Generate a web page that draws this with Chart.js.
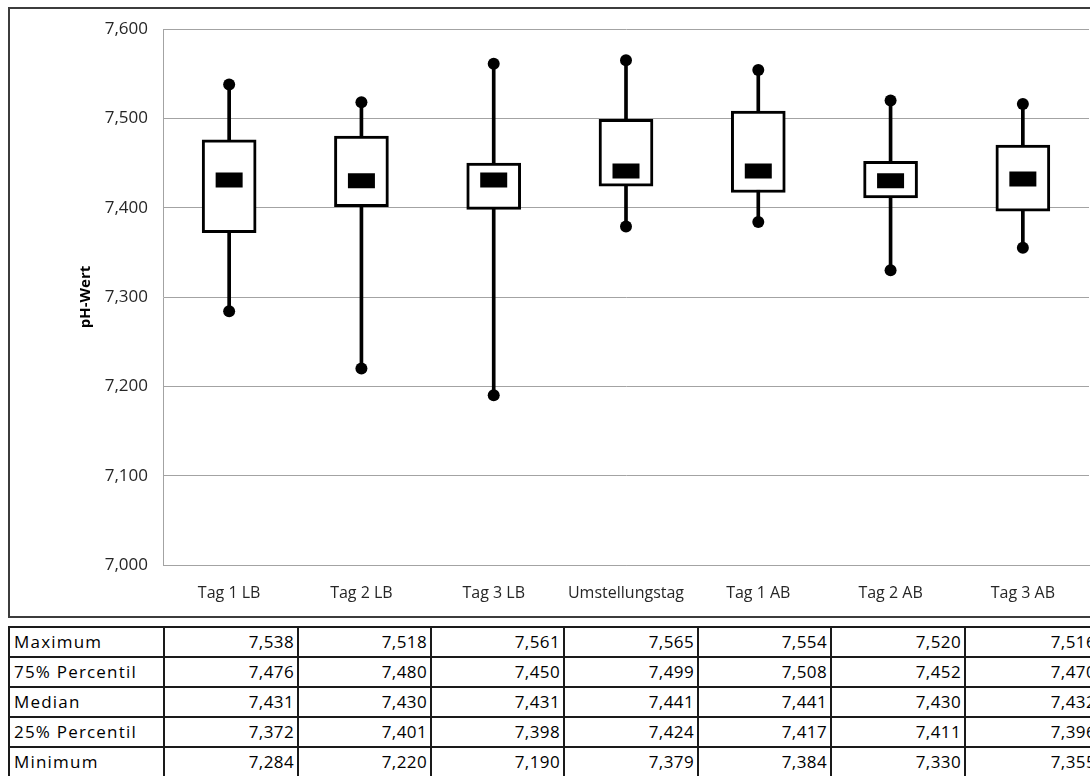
<!DOCTYPE html>
<html lang="de">
<head>
<meta charset="utf-8">
<title>pH-Wert Verlauf</title>
<script src="https://cdn.jsdelivr.net/npm/chart.js@4/dist/chart.umd.min.js"></script>
<style>
  html, body { margin: 0; padding: 0; background: #fff; overflow: hidden; width: 1090px; height: 776px; }
  #frame {
    position: absolute; left: 8px; top: 7px;
    width: 1100px; height: 607px;
    border: 2px solid #3c3c3c;
  }
  #frame canvas { display: block; }
  #stats {
    position: absolute; left: 8px; top: 626px;
    border-collapse: collapse;
    font-family: "Open Sans", sans-serif; font-size: 17px; color: #000;
    table-layout: fixed; width: 1091px;
  }
  #stats td {
    border: 2px solid #1a1a1a;
    height: 28px; padding: 0 3px; line-height: 28px;
    white-space: nowrap; overflow: hidden;
    letter-spacing: 0.4px;
  }
  #stats td.lbl { text-align: left; padding-left: 4px; letter-spacing: 1.2px; }
  #stats td.num { text-align: right; }
</style>
</head>
<body>
<div id="frame"><canvas id="chart" width="1100" height="607"></canvas></div>
<table id="stats"></table>
<script>
// Kategorien (Messtage)
const categories = ['Tag 1 LB', 'Tag 2 LB', 'Tag 3 LB', 'Umstellungstag', 'Tag 1 AB', 'Tag 2 AB', 'Tag 3 AB'];

// Kennwerte je Messtag
const maximum = [7.538, 7.518, 7.561, 7.565, 7.554, 7.520, 7.516];
const q3      = [7.476, 7.480, 7.450, 7.499, 7.508, 7.452, 7.470];
const median  = [7.431, 7.430, 7.431, 7.441, 7.441, 7.430, 7.432];
const q1      = [7.372, 7.401, 7.398, 7.424, 7.417, 7.411, 7.396];
const minimum = [7.284, 7.220, 7.190, 7.379, 7.384, 7.330, 7.355];

// Zeilenbeschriftungen der Tabelle
const rowLabels = ['Maximum', '75% Percentil', 'Median', '25% Percentil', 'Minimum'];
const rowValues = [maximum, q3, median, q1, minimum];

// Achsenbereich
const yMin = 7.0, yMax = 7.6, yStep = 0.1;

const fmt = v => v.toFixed(3).replace('.', ',');

// Tabelle unter dem Diagramm
const colWidths = [155, 134, 133, 133, 134, 133, 134, 135];
const table = document.getElementById('stats');
const cg = document.createElement('colgroup');
colWidths.forEach(w => { const c = document.createElement('col'); c.style.width = w + 'px'; cg.appendChild(c); });
table.appendChild(cg);
rowLabels.forEach((lbl, r) => {
  const tr = document.createElement('tr');
  const th = document.createElement('td');
  th.className = 'lbl'; th.textContent = lbl; tr.appendChild(th);
  rowValues[r].forEach(v => {
    const td = document.createElement('td');
    td.className = 'num'; td.textContent = fmt(v); tr.appendChild(td);
  });
  table.appendChild(tr);
});

const boxRanges = categories.map((_, i) => [q1[i], q3[i]]);
const whiskerRanges = categories.map((_, i) => [minimum[i], maximum[i]]);

new Chart(document.getElementById('chart'), {
  data: {
    labels: categories,
    datasets: [
      {
        type: 'line', label: 'Median', data: median, order: 0,
        showLine: false, pointStyle: 'line', pointRadius: 13.5, pointHoverRadius: 13.5,
        pointBorderWidth: 15, pointHoverBorderWidth: 15,
        borderColor: '#000', backgroundColor: '#000'
      },
      {
        type: 'line', label: 'Maximum', data: maximum, order: 1,
        showLine: false, pointStyle: 'circle', pointRadius: 6, pointHoverRadius: 6,
        pointBorderWidth: 0, backgroundColor: '#000', borderColor: '#000'
      },
      {
        type: 'line', label: 'Minimum', data: minimum, order: 1,
        showLine: false, pointStyle: 'circle', pointRadius: 6, pointHoverRadius: 6,
        pointBorderWidth: 0, backgroundColor: '#000', borderColor: '#000'
      },
      {
        type: 'bar', label: 'Quartile', data: boxRanges, order: 2,
        grouped: false, barThickness: 54,
        backgroundColor: '#fff', borderColor: '#000', borderWidth: 3, borderSkipped: false
      },
      {
        type: 'bar', label: 'Spannweite', data: whiskerRanges, order: 3,
        grouped: false, barThickness: 3,
        backgroundColor: '#000', borderWidth: 0
      }
    ]
  },
  options: {
    responsive: false,
    animation: false,
    events: [],
    layout: { autoPadding: false, padding: { top: 20, right: 21, left: 0, bottom: 0 } },
    plugins: { legend: { display: false }, tooltip: { enabled: false } },
    scales: {
      x: {
        offset: true,
        grid: { display: false, drawTicks: false },
        border: { display: true, color: '#a3a3a3', width: 1 },
        ticks: {
          color: '#262626', padding: 19, maxRotation: 0, autoSkip: false,
          font: { family: '"Open Sans", sans-serif', size: 16 }
        },
        afterFit: s => { s.height = 51; s.paddingLeft = 0; s.paddingRight = 0; }
      },
      y: {
        min: yMin, max: yMax,
        grid: { color: '#a3a3a3', lineWidth: 1, drawTicks: false },
        border: { display: true, color: '#a3a3a3', width: 1 },
        ticks: {
          stepSize: yStep, padding: 15, color: '#262626',
          font: { family: '"Open Sans", sans-serif', size: 17 },
          callback: v => fmt(v)
        },
        title: {
          display: true, text: 'pH-Wert', color: '#000',
          font: { family: '"Open Sans", sans-serif', size: 15, weight: 'bold' },
          padding: { top: 67, bottom: 0 }
        },
        afterFit: s => { s.width = 153; s.paddingTop = 0; s.paddingBottom = 0; }
      }
    }
  }
});
</script>
</body>
</html>
